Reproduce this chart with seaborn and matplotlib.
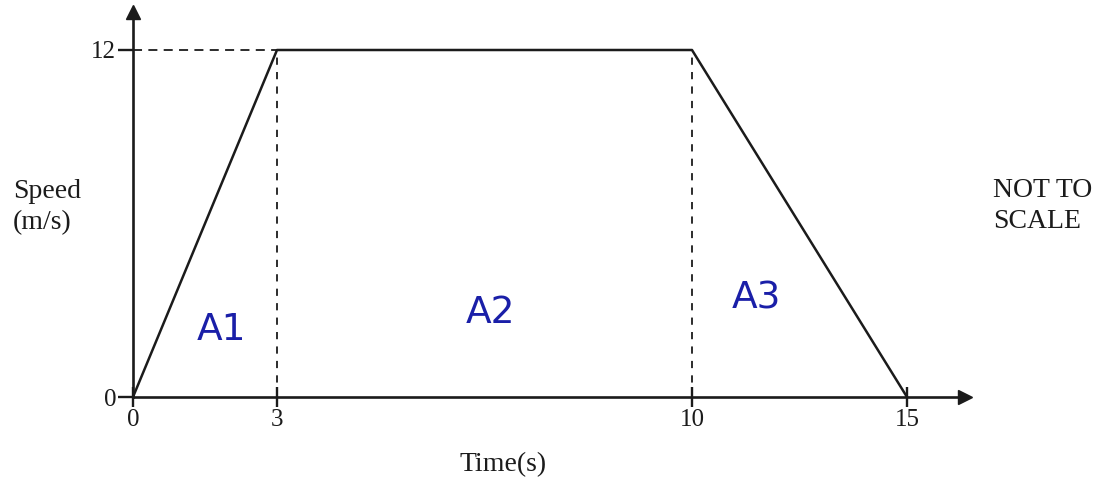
import numpy as np
import pandas as pd
import matplotlib
matplotlib.use("Agg")
import matplotlib.pyplot as plt
import seaborn as sns

# Speed-time graph of a journey (trapezium shape)
time_s = [0, 3, 10, 15]
speed_ms = [0, 12, 12, 0]
x_ticks = [0, 3, 10, 15]
y_ticks = [0, 12]
area_names = ["A1", "A2", "A3"]
area_times = [1.85, 6.6, 11.5]
area_speeds = [2.3, 2.9, 3.4]

# The time axis is drawn "not to scale": each stage gets its own width.
knot_t = np.array([-100.0, 0.0, 3.0, 10.0, 15.0, 100.0])
knot_p = np.array([-4800.0, 0.0, 144.0, 559.0, 774.0, 774.0 + 85 * 43.0])


def fwd(t):
    return np.interp(t, knot_t, knot_p)


def inv(p):
    return np.interp(p, knot_p, knot_t)


sns.set_theme(style="white")
plt.rcParams["font.family"] = ["Liberation Serif", "DejaVu Serif"]
ink = "#1b1b1b"

W, H = 1106, 479
fig = plt.figure(figsize=(W / 100, H / 100), dpi=100)
fig.patch.set_facecolor("white")
ax = fig.add_axes([133 / W, (H - 397) / H, (965 - 133) / W, (397 - 12) / H])
ax.set_facecolor("white")
ax.set_xscale("function", functions=(fwd, inv))

df = pd.DataFrame({"Time": time_s, "Speed": speed_ms})
sns.lineplot(data=df, x="Time", y="Speed", ax=ax, color=ink, lw=1.8,
             estimator=None, sort=False)

ax.set_xlim(0, inv(965 - 133))
ax.set_ylim(0, 12 * (397 - 12) / (397 - 50))

# Guide lines to the corners of the graph
ax.plot([0, time_s[1]], [speed_ms[1], speed_ms[1]], ls=(0, (5, 3.5)), color=ink, lw=1.3)
for t, v in zip(time_s[1:3], speed_ms[1:3]):
    ax.plot([t, t], [0, v], ls=(0, (4, 4)), color=ink, lw=1.3)

# Axes with arrow heads
for side in ["top", "right"]:
    ax.spines[side].set_visible(False)
for side in ["left", "bottom"]:
    ax.spines[side].set_color(ink)
    ax.spines[side].set_linewidth(1.9)
ax.plot(1, 0, ">", color=ink, ms=10, transform=ax.get_yaxis_transform(), clip_on=False)
ax.plot(0, 1, "^", color=ink, ms=10, transform=ax.get_xaxis_transform(), clip_on=False)

ax.set_xticks(x_ticks)
ax.set_xticklabels([str(v) for v in x_ticks])
ax.set_yticks(y_ticks)
ax.set_yticklabels([str(v) for v in y_ticks])
ax.xaxis.set_minor_locator(matplotlib.ticker.NullLocator())
ax.tick_params(axis="x", direction="inout", length=14, width=1.7, color=ink,
               labelsize=18, labelcolor=ink, pad=2, bottom=True)
ax.tick_params(axis="y", direction="out", length=11, width=1.7, color=ink,
               labelsize=18, labelcolor=ink, pad=1, left=True)
ax.set_xlabel("")
ax.set_ylabel("")

# Handwritten area labels
for name, t, v in zip(area_names, area_times, area_speeds):
    ax.text(t, v, name, color="#1a1fa8", fontsize=27, ha="center", va="center",
            family=["DejaVu Sans"])

fig.text(13 / W, 1 - 207 / H, "Speed\n(m/s)", fontsize=20, color=ink,
         ha="left", va="center", linespacing=1.3)
fig.text(993 / W, 1 - 206 / H, "NOT TO\nSCALE", fontsize=20, color=ink,
         ha="left", va="center", linespacing=1.3)
fig.text(503 / W, 1 - 465 / H, "Time(s)", fontsize=20, color=ink,
         ha="center", va="center")

fig.savefig("out.png", dpi=100, facecolor="white")
